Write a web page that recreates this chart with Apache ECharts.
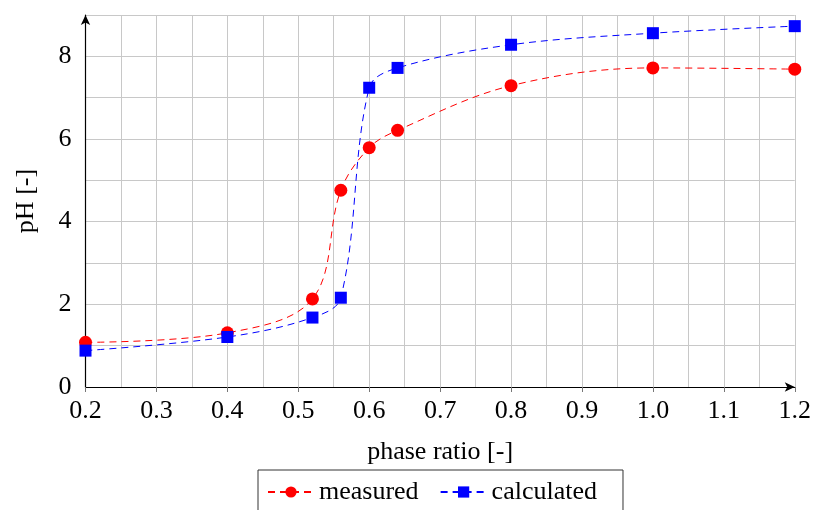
<!DOCTYPE html>
<html>
<head>
<meta charset="utf-8">
<script src="https://cdn.jsdelivr.net/npm/echarts@6/dist/echarts.min.js"></script>
<style>
  html, body { margin: 0; padding: 0; background: #fff; }
  #chart { width: 814px; height: 510px; }
</style>
</head>
<body>
<div id="chart"></div>
<script>
var phaseRatio = [0.2, 0.4, 0.52, 0.56, 0.6, 0.64, 0.8, 1.0, 1.2];
var measured   = [1.08, 1.31, 2.13, 4.76, 5.79, 6.21, 7.29, 7.72, 7.69];
var calculated = [0.88, 1.21, 1.68, 2.16, 7.24, 7.72, 8.28, 8.56, 8.73];

function pairs(xs, ys) {
  return xs.map(function (x, i) { return [x, ys[i]]; });
}

var font = 'Liberation Serif';
var chart = echarts.init(document.getElementById('chart'), null, { renderer: 'canvas' });

var option = {
  animation: false,
  backgroundColor: '#fff',
  textStyle: { fontFamily: font },
  grid: { left: 85.5, right: 17, top: 15, bottom: 123 },
  legend: {
    left: 258,
    top: 470,
    padding: [9, 26, 8, 9],
    borderColor: '#333',
    borderWidth: 1,
    itemWidth: 46,
    itemHeight: 14,
    itemGap: 21,
    textStyle: { fontFamily: font, fontSize: 26, color: '#000' },
    data: ['measured', 'calculated']
  },
  xAxis: {
    type: 'value',
    min: 0.2,
    max: 1.2,
    interval: 0.1,
    name: 'phase ratio [-]',
    nameLocation: 'middle',
    nameGap: 52,
    nameTextStyle: { fontFamily: font, fontSize: 26, color: '#000' },
    axisLine: {
      onZero: false,
      symbol: ['none', 'arrow'],
      symbolSize: [7, 10],
      lineStyle: { color: '#000', width: 1.2 }
    },
    axisTick: { show: true, length: 5, lineStyle: { color: '#777' } },
    axisLabel: {
      margin: 11,
      fontFamily: font,
      fontSize: 26,
      color: '#000',
      formatter: function (v) { return v.toFixed(1); }
    },
    splitLine: { show: true, lineStyle: { color: '#c8c8c8', width: 1 } },
    minorTick: { show: false, splitNumber: 2 },
    minorSplitLine: { show: true, lineStyle: { color: '#c8c8c8', width: 1 } }
  },
  yAxis: {
    type: 'value',
    min: 0,
    max: 9,
    interval: 1,
    name: 'pH [-]',
    nameLocation: 'middle',
    nameGap: 46,
    nameTextStyle: { fontFamily: font, fontSize: 26, color: '#000' },
    axisLine: {
      show: true,
      onZero: false,
      symbol: ['none', 'arrow'],
      symbolSize: [7, 10],
      lineStyle: { color: '#000', width: 1.2 }
    },
    axisTick: { show: false },
    axisLabel: {
      margin: 14,
      fontFamily: font,
      fontSize: 26,
      color: '#000',
      formatter: function (v) { return (v % 2 === 0 && v < 9) ? String(v) : ''; }
    },
    splitLine: { show: true, lineStyle: { color: '#c8c8c8', width: 1 } }
  },
  series: [
    {
      name: 'measured',
      type: 'line',
      smooth: 0.35,
      symbol: 'circle',
      symbolSize: 13,
      itemStyle: { color: '#ff0000' },
      lineStyle: { color: '#ff0000', width: 1, type: [7, 5] },
      data: pairs(phaseRatio, measured)
    },
    {
      name: 'calculated',
      type: 'line',
      smooth: 0.35,
      symbol: 'rect',
      symbolSize: 12,
      itemStyle: { color: '#0000ff' },
      lineStyle: { color: '#0000ff', width: 1, type: [7, 5] },
      data: pairs(phaseRatio, calculated)
    }
  ]
};

chart.setOption(option);
</script>
</body>
</html>
